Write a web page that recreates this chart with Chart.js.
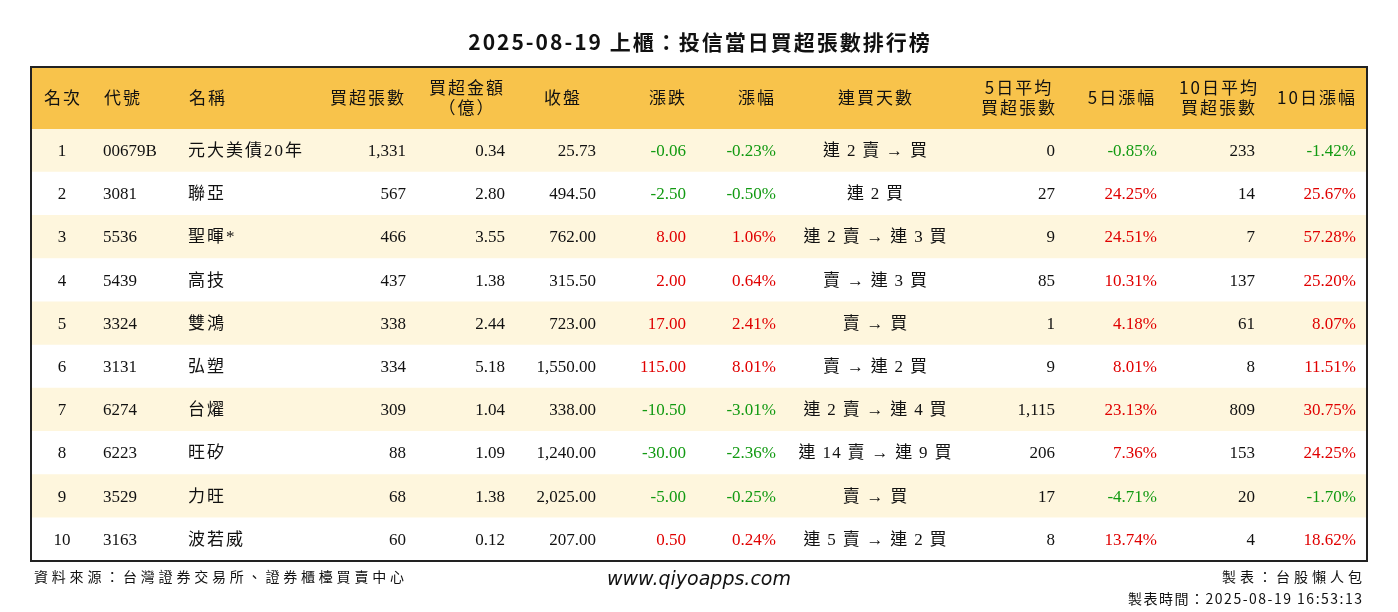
<!DOCTYPE html>
<html><head><meta charset="utf-8">
<script src="https://cdn.jsdelivr.net/npm/chart.js@4/dist/chart.umd.min.js"></script>
<style>html,body{margin:0;padding:0;background:#fff}canvas{display:block}</style>
</head><body>
<div style="width:1398px;height:612px"><canvas id="c" width="1398" height="612"></canvas></div>
<script>
const title = "2025-08-19 上櫃：投信當日買超張數排行榜";
const headers = [["名次"],["代號"],["名稱"],["買超張數"],["買超金額","（億）"],["收盤"],["漲跌"],["漲幅"],["連買天數"],["5日平均","買超張數"],["5日漲幅"],["10日平均","買超張數"],["10日漲幅"]];
const ranks = ["1","2","3","4","5","6","7","8","9","10"];
const codes = ["00679B","3081","5536","5439","3324","3131","6274","6223","3529","3163"];
const names = ["元大美債20年","聯亞","聖暉*","高技","雙鴻","弘塑","台燿","旺矽","力旺","波若威"];
const netBuy = ["1,331","567","466","437","338","334","309","88","68","60"];
const amount = ["0.34","2.80","3.55","1.38","2.44","5.18","1.04","1.09","1.38","0.12"];
const closePx = ["25.73","494.50","762.00","315.50","723.00","1,550.00","338.00","1,240.00","2,025.00","207.00"];
const change = ["-0.06","-2.50","8.00","2.00","17.00","115.00","-10.50","-30.00","-5.00","0.50"];
const changePct = ["-0.23%","-0.50%","1.06%","0.64%","2.41%","8.01%","-3.01%","-2.36%","-0.25%","0.24%"];
const streak = ["連 2 賣 → 買","連 2 買","連 2 賣 → 連 3 買","賣 → 連 3 買","賣 → 買","賣 → 連 2 買","連 2 賣 → 連 4 買","連 14 賣 → 連 9 買","賣 → 買","連 5 賣 → 連 2 買"];
const avg5 = ["0","27","9","85","1","9","1,115","206","17","8"];
const pct5 = ["-0.85%","24.25%","24.51%","10.31%","4.18%","8.01%","23.13%","7.36%","-4.71%","13.74%"];
const avg10 = ["233","14","7","137","61","8","809","153","20","4"];
const pct10 = ["-1.42%","25.67%","57.28%","25.20%","8.07%","11.51%","30.75%","24.25%","-1.70%","18.62%"];

const columns = [ranks,codes,names,netBuy,amount,closePx,change,changePct,streak,avg5,pct5,avg10,pct10];
const colX = [62,103,188,406,505,596,686,776,875,1055,1157,1255,1356];
const colAlign = ["center","left","left","right","right","right","right","right","center","right","right","right","right"];
const headX = [62,122,207,367,466,562,667,756,875,1018,1121,1218,1316];
const colored = [6,7,10,12];
const spacing = {2:2, 8:1.3};

const FONT = "'Liberation Serif','Noto Sans CJK TC',serif";
const HFONT = "'Noto Sans CJK TC','Liberation Serif',sans-serif";
const ink = "#111";
function colorOf(s){ return s.trim().startsWith("-") ? "#129a12" : "#e00000"; }
function txt(ctx, s, x, y, align, sp){
  ctx.letterSpacing = sp+"px";
  let w = ctx.measureText(s).width - sp;
  let lx = align==="left" ? x : align==="right" ? x - w : x - w/2;
  ctx.textAlign = "left";
  ctx.fillText(s, lx, y);
  ctx.letterSpacing = "0px";
}

const tablePlugin = {
  id:'table',
  afterDatasetsDraw(chart){
    const ctx = chart.ctx, ca = chart.chartArea, ys = chart.scales.y;
    ctx.save();
    ctx.textBaseline="middle";
    ctx.fillStyle = ink;
    ctx.font = "bold 21px "+HFONT;
    txt(ctx, title, 699, 42, "center", 2);
    const hTop = 67, hBot = ca.top;
    ctx.fillStyle = "#F8C34B";
    ctx.fillRect(ca.left, hTop, ca.right-ca.left, hBot-hTop);
    ctx.fillStyle = ink; ctx.font = "17px "+HFONT;
    headers.forEach((h,i)=>{
      if(h.length===1) txt(ctx, h[0], headX[i], (hTop+hBot)/2, "center", 2);
      else { txt(ctx, h[0], headX[i], (hTop+hBot)/2-10, "center", 2); txt(ctx, h[1], headX[i], (hTop+hBot)/2+10, "center", 2); }
    });
    ctx.font = "17px "+FONT;
    columns.forEach((col,ci)=>{
      col.forEach((v,ri)=>{
        const y = ys.getPixelForValue(ri);
        ctx.fillStyle = colored.includes(ci) ? colorOf(v) : ink;
        txt(ctx, v, colX[ci], y+1, colAlign[ci], spacing[ci] || 0);
      });
    });
    ctx.strokeStyle = "#222"; ctx.lineWidth = 2;
    ctx.strokeRect(ca.left, hTop, ca.right-ca.left, ca.bottom-hTop);
    ctx.fillStyle = ink; ctx.font = "14px "+HFONT;
    txt(ctx, "資料來源：台灣證券交易所、證券櫃檯買賣中心", 34, 577, "left", 3.8);
    txt(ctx, "製表：台股懶人包", 1362, 577, "right", 4);
    txt(ctx, "製表時間：2025-08-19 16:53:13", 1362, 599, "right", 1.5);
    ctx.font = "italic 19px 'DejaVu Sans',sans-serif";
    txt(ctx, "www.qiyoapps.com", 699, 580, "center", 0);
    ctx.restore();
  }
};

new Chart(document.getElementById('c'), {
  type:'bar',
  data:{ labels: ranks, datasets:[{
    data: ranks.map(()=>[0,1]),
    backgroundColor: ranks.map((_,i)=> i%2===0 ? "#FEF6DD" : "#FFFFFF"),
    borderWidth:0, barPercentage:1, categoryPercentage:1
  }]},
  options:{
    indexAxis:'y', responsive:false, animation:false,
    layout:{padding:{left:31,right:31,top:129,bottom:51}},
    plugins:{legend:{display:false},tooltip:{enabled:false},title:{display:false}},
    scales:{
      x:{type:'linear',min:0,max:1,display:false},
      y:{type:'category',display:false,offset:true,grid:{display:false}}
    }
  },
  plugins:[tablePlugin]
});
</script>
</body></html>
